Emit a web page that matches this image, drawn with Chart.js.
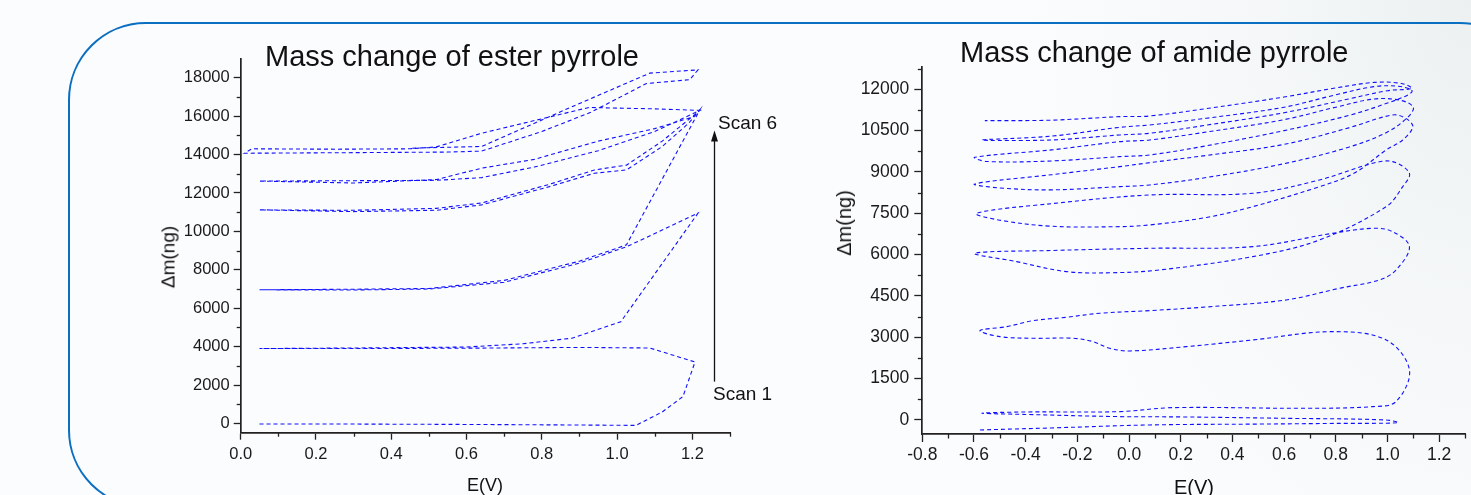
<!DOCTYPE html>
<html>
<head>
<meta charset="utf-8">
<script src="https://cdn.jsdelivr.net/npm/chart.js@4.4.1/dist/chart.umd.min.js"></script>
<style>
  html, body { margin: 0; padding: 0; }
  body {
    width: 1471px; height: 495px; overflow: hidden; position: relative;
    background: #fbfcfe; font-family: Arial, "Liberation Sans", sans-serif; color: #111;
  }
  #shade {
    position: absolute; left: 0; top: 0; width: 1471px; height: 495px;
    background: radial-gradient(ellipse 460px 700px at 100% 0%, #ecf0f1 0%, rgba(243,246,247,0.85) 40%, rgba(251,252,254,0) 100%);
  }
  #frame {
    position: absolute; left: 68px; top: 22px; width: 1470px; height: 486px;
    border: 2px solid #0a6fc1; border-radius: 78px; box-sizing: border-box;
  }
  canvas { position: absolute; }
  .t { position: absolute; white-space: nowrap; line-height: 1; }
  .rot { transform: translate(-50%, -50%) rotate(-90deg); }
</style>
</head>
<body>
<div id="shade"></div>
<div id="frame"></div>
<canvas id="ester" width="630" height="455" style="left:130px;top:40px"></canvas>
<canvas id="amide" width="711" height="455" style="left:760px;top:40px"></canvas>

<div class="t" style="left:265px;top:42px;font-size:29px">Mass change of ester pyrrole</div>
<div class="t" style="left:960px;top:38px;font-size:29px">Mass change of amide pyrrole</div>
<div class="t" style="left:467px;top:476px;font-size:18px">E(V)</div>
<div class="t" style="left:1174px;top:477px;font-size:20px">E(V)</div>
<div class="t rot" style="left:168px;top:257px;font-size:19px">Δm(ng)</div>
<div class="t rot" style="left:844px;top:223px;font-size:20px">Δm(ng)</div>
<div class="t" style="left:718px;top:113px;font-size:19px">Scan 6</div>
<div class="t" style="left:713px;top:384px;font-size:19px">Scan 1</div>

<script>
// ester pyrrole: E (V) and mass change (ng), six scans in order
const esterE = [
  0.05, 0.3, 0.6, 0.9, 1.05, 1.12, 1.175, 1.207, 1.087, 0.9, 0.6, 0.3, 0.05,
  0.3, 0.6, 0.75, 0.88, 1.01, 1.215, 1.025, 0.9, 0.7, 0.5, 0.3, 0.05,
  0.3, 0.5, 0.7, 0.9, 1.025, 1.22, 1.19, 1.12, 1.025, 0.94, 0.82, 0.64, 0.52, 0.3, 0.05,
  0.3, 0.52, 0.64, 0.82, 0.94, 1.025, 1.12, 1.22, 1.2, 1.1, 0.95, 0.78, 0.64, 0.52, 0.3, 0.05,
  0.3, 0.52, 0.64, 0.78, 0.95, 1.1, 1.22, 1.1, 0.925, 0.64, 0.52, 0.45, 0.25, 0.03,
  0.01, 0.3, 0.55, 0.64, 0.8, 0.93, 1.078, 1.193, 1.215, 1.087, 0.88, 0.64, 0.55, 0.45
];
const esterDm = [
  -30, -30, -50, -80, -100, 600, 1400, 3200, 3930, 3960, 3920, 3900, 3900,
  3930, 3980, 4150, 4440, 5300, 10950, 9200, 8350, 7350, 7000, 6950, 6960,
  6990, 7030, 7450, 8450, 9300, 16330, 15630, 14420, 13200, 13030, 12330, 11380, 11100, 11030, 11120,
  11100, 11200, 11480, 12450, 13200, 13450, 14700, 16300, 15950, 15350, 14700, 13750, 13290, 12700, 12520, 12620,
  12640, 12660, 12800, 13350, 14200, 15200, 16300, 16380, 16450, 15110, 14400, 14300, 14280, 14300,
  14070, 14100, 14130, 14180, 15200, 16200, 17700, 17900, 18410, 18240, 16490, 14420, 14380, 14330
];

// amide pyrrole: E (V) and mass change (ng), eight scans in order
const amideE = [
  -0.577, -0.3, 0.08, 0.5, 0.8, 1.04, 0.995, 0.6, 0.2, -0.036, -0.4, -0.57,
  -0.4, -0.036, 0.17, 0.686, 0.943, 1.033, 1.085, 0.995, 0.788, 0.479, 0.222, 0.003, -0.075, -0.139, -0.216, -0.371, -0.5, -0.577,
  -0.474, -0.371, -0.242, -0.113, 0.08, 0.3, 0.608, 0.815, 0.969, 1.033, 1.085, 1.02, 0.943, 0.788, 0.479, 0.08, -0.3, -0.597,
  -0.435, -0.242, -0.049, 0.118, 0.479, 0.737, 0.995, 1.059, 1.085, 1.02, 0.943, 0.737, 0.479, 0.08, -0.3, -0.59,
  -0.5, -0.3, -0.036, 0.08, 0.3, 0.479, 0.737, 0.87, 0.995, 1.059, 1.098, 1.07, 1.02, 0.85, 0.6, 0.3, 0.08, -0.036, -0.3, -0.597,
  -0.5, -0.3, -0.036, 0.08, 0.3, 0.6, 0.85, 1.0, 1.08, 1.1, 1.05, 0.95, 0.8, 0.6, 0.3, 0.08, -0.036, -0.3, -0.597,
  -0.55, -0.3, -0.036, 0.08, 0.3, 0.6, 0.85, 1.0, 1.08, 1.095, 1.05, 0.95, 0.8, 0.6, 0.3, 0.08, -0.036, -0.3, -0.57,
  -0.3, -0.036, 0.08, 0.3, 0.6, 0.85, 1.0, 1.08, 1.095, 1.05, 0.95, 0.8, 0.6, 0.3, 0.08, -0.036, -0.3, -0.558
];
const amideDm = [
  -363, -290, -181, -150, -125, -100, 0, 60, 110, 121, 200, 245,
  290, 302, 447, 423, 484, 665, 1815, 2903, 3205, 2903, 2661, 2504, 2601, 2842, 2964, 2964, 3023, 3241,
  3386, 3604, 3727, 3872, 3967, 4100, 4355, 4780, 5080, 5443, 6290, 6833, 6955, 6774, 6290, 6230, 6150, 6048,
  5745, 5383, 5346, 5443, 5927, 6532, 7741, 8467, 8952, 9374, 9315, 8710, 8227, 8165, 7850, 7500,
  7250, 7030, 7015, 7077, 7350, 7741, 8467, 8952, 9798, 10161, 10645, 10950, 11069, 10600, 10000, 9600, 9338, 9193, 8900, 8564,
  8420, 8350, 8467, 8528, 8800, 9300, 9900, 10450, 11000, 11350, 11600, 11650, 11350, 10900, 10450, 10161, 10101, 9800, 9532,
  9380, 9400, 9556, 9617, 9950, 10500, 11050, 11500, 11800, 11950, 12100, 12100, 11800, 11350, 10950, 10706, 10620, 10300, 10161,
  10161, 10343, 10404, 10700, 11150, 11650, 11950, 12000, 12050, 12220, 12250, 12050, 11720, 11300, 11032, 11007, 10880, 10862
];

const esterXTicks = [0, 0.2, 0.4, 0.6, 0.8, 1.0, 1.2];
const esterYTicks = [0, 2000, 4000, 6000, 8000, 10000, 12000, 14000, 16000, 18000];
const amideXTicks = [-0.8, -0.6, -0.4, -0.2, 0, 0.2, 0.4, 0.6, 0.8, 1.0, 1.2];
const amideYTicks = [0, 1500, 3000, 4500, 6000, 7500, 9000, 10500, 12000];

// arrow from Scan 1 up to Scan 6 (ester chart data units)
const scanArrow = { x: 1.258, from: 2180, to: 15250 };

const FONT = 'Arial, "Liberation Sans", sans-serif';

function toPoints(xs, ys) {
  return xs.map((x, i) => ({ x: x, y: ys[i] }));
}

// unlabelled ticks halfway between the labelled ones
function minors(ticks, lo, hi) {
  const step = ticks[1] - ticks[0];
  const out = [];
  for (let v = ticks[0] - step / 2; v <= hi + 1e-9; v += step) {
    if (v >= lo - 1e-9) out.push(+v.toFixed(6));
  }
  return out;
}

const minorTicks = {
  id: 'minorTicks',
  afterDraw(chart, args, opts) {
    const ctx = chart.ctx;
    const xs = chart.scales.x, ys = chart.scales.y;
    ctx.save();
    ctx.strokeStyle = '#222';
    ctx.lineWidth = 1.3;
    opts.x.forEach(v => {
      const p = Math.round(xs.getPixelForValue(v)) + 0.5;
      ctx.beginPath();
      ctx.moveTo(p, xs.top);
      ctx.lineTo(p, xs.top + opts.len);
      ctx.stroke();
    });
    opts.y.forEach(v => {
      const p = Math.round(ys.getPixelForValue(v)) + 0.5;
      ctx.beginPath();
      ctx.moveTo(ys.right, p);
      ctx.lineTo(ys.right - opts.len, p);
      ctx.stroke();
    });
    ctx.restore();
  }
};

const arrowPlugin = {
  id: 'scanArrow',
  afterDraw(chart, args, opts) {
    if (!opts.show) return;
    const ctx = chart.ctx;
    const x = Math.round(chart.scales.x.getPixelForValue(scanArrow.x)) + 0.5;
    const y0 = chart.scales.y.getPixelForValue(scanArrow.from);
    const y1 = chart.scales.y.getPixelForValue(scanArrow.to);
    ctx.save();
    ctx.strokeStyle = '#111';
    ctx.fillStyle = '#111';
    ctx.lineWidth = 1.3;
    ctx.beginPath();
    ctx.moveTo(x, y0);
    ctx.lineTo(x, y1 + 8);
    ctx.stroke();
    ctx.beginPath();
    ctx.moveTo(x, y1);
    ctx.lineTo(x - 3.5, y1 + 11);
    ctx.lineTo(x + 3.5, y1 + 11);
    ctx.closePath();
    ctx.fill();
    ctx.restore();
  }
};

function axis(min, max, ticks, fontSize, tickLen, pad, size, horizontal, digits) {
  return {
    type: 'linear',
    min: min,
    max: max,
    border: { display: true, color: '#222', width: 1.7 },
    grid: { drawOnChartArea: false, drawTicks: true, tickLength: tickLen, tickColor: '#222', tickWidth: 1.3 },
    ticks: {
      autoSkip: false, maxRotation: 0, padding: pad, color: '#1a1a1a',
      font: { family: FONT, size: fontSize },
      callback: v => digits ? Number(v).toFixed(digits) : String(v)
    },
    afterBuildTicks: s => { s.ticks = ticks.map(v => ({ value: v })); },
    afterFit: s => {
      if (horizontal) s.height = size; else s.width = size;
      s.paddingLeft = s.paddingRight = s.paddingTop = s.paddingBottom = 0;
    }
  };
}

function makeChart(id, pts, cfg) {
  return new Chart(document.getElementById(id), {
    type: 'scatter',
    data: {
      datasets: [{
        data: pts,
        showLine: true,
        borderColor: 'rgb(16,16,255)',
        borderWidth: 1.1,
        borderDash: [4, 3],
        pointRadius: 0,
        tension: cfg.tension
      }]
    },
    options: {
      responsive: false,
      animation: false,
      layout: { padding: cfg.padding },
      plugins: {
        legend: { display: false },
        tooltip: { enabled: false },
        minorTicks: cfg.minor,
        scanArrow: { show: cfg.arrow }
      },
      scales: { x: cfg.x, y: cfg.y }
    },
    plugins: [minorTicks, arrowPlugin]
  });
}

makeChart('ester', toPoints(esterE, esterDm), {
  tension: 0,
  padding: { left: 0, top: 19.3, right: 30, bottom: 0 },
  x: axis(0, 1.3, esterXTicks, 16.5, 7, 5, 62.3, true, 1),
  y: axis(-480, 18960, esterYTicks, 16.5, 7, 4, 110.7, false, 0),
  minor: { len: 4, x: minors(esterXTicks, 0, 1.3), y: minors(esterYTicks, -480, 18960) },
  arrow: true
});

makeChart('amide', toPoints(amideE, amideDm), {
  tension: 0.35,
  padding: { left: 0, top: 26.7, right: 6, bottom: 0 },
  x: axis(-0.8, 1.3, amideXTicks, 17.5, 8, 3, 61, true, 1),
  y: axis(-510, 12820, amideYTicks, 17.5, 8, 5, 162.3, false, 0),
  minor: { len: 4.5, x: minors(amideXTicks, -0.8, 1.3), y: minors(amideYTicks, -510, 12820) },
  arrow: false
});
</script>
</body>
</html>
